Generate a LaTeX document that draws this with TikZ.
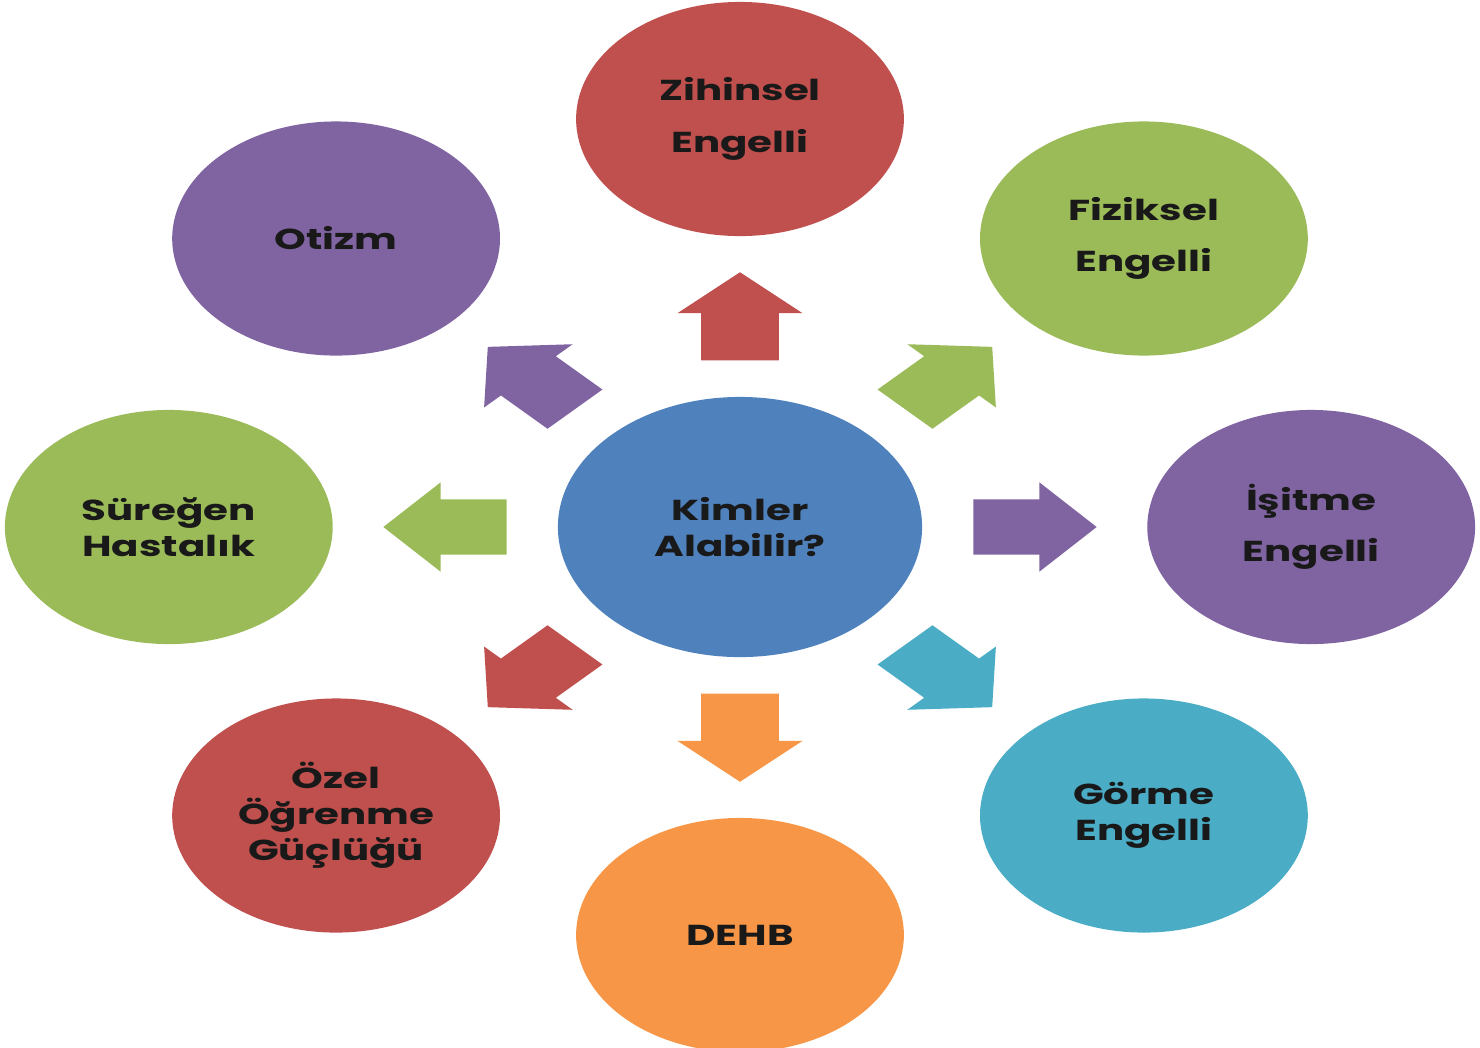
\documentclass[tikz,border=0pt]{standalone}
\usepackage{fontspec}
\setmainfont{Poppins}
\usepackage{xcolor}
\usetikzlibrary{shapes.arrows}

\definecolor{offred}{HTML}{C0504D}
\definecolor{offgreen}{HTML}{9BBB59}
\definecolor{offpurple}{HTML}{8064A2}
\definecolor{offblue}{HTML}{4F81BD}
\definecolor{offaqua}{HTML}{4BACC6}
\definecolor{offorange}{HTML}{F79646}

\begin{document}
\begin{tikzpicture}[xscale=1.4,x=0.01cm,y=0.01cm,
    every node/.style={transform shape},
    bubble/.style={circle,minimum size=2.34cm,inner sep=0pt,align=center,
      text=black!90,font=\bfseries\fontsize{8.2}{10.3}\selectfont},
    blockarrow/.style={single arrow,minimum height=0.88cm,minimum width=0.7cm,
      single arrow head extend=0.17cm,single arrow tip angle=95,
      inner xsep=0pt,inner ysep=0.27cm,anchor=tail}]
  \useasboundingbox (-528.57,-520) rectangle (528.57,527);

  % center
  \node[bubble,fill=offblue,minimum size=2.6cm] (center) at (0,0) {Kimler\\Alabilir?};

  % satellites and arrows
  \foreach \ang/\col/\name/\txt in {
      90/offred/zihinsel/{Zihinsel\\[4.3pt]Engelli},
      45/offgreen/fiziksel/{Fiziksel\\[4.3pt]Engelli},
      0/offpurple/isitme/{İşitme\\[4.3pt]Engelli},
      -45/offaqua/gorme/{Görme\\Engelli},
      -90/offorange/dehb/{DEHB},
      -135/offred/ozel/{Özel\\Öğrenme\\Güçlüğü},
      180/offgreen/sureğen/{Süreğen\\Hastalık},
      135/offpurple/otizm/{Otizm}}{
    \node[bubble,fill=\col] (\name) at (\ang:408) {\txt};
    \node[blockarrow,fill=\col,rotate=\ang] (arr-\name) at (\ang:166) {};
  }
\end{tikzpicture}
\end{document}
